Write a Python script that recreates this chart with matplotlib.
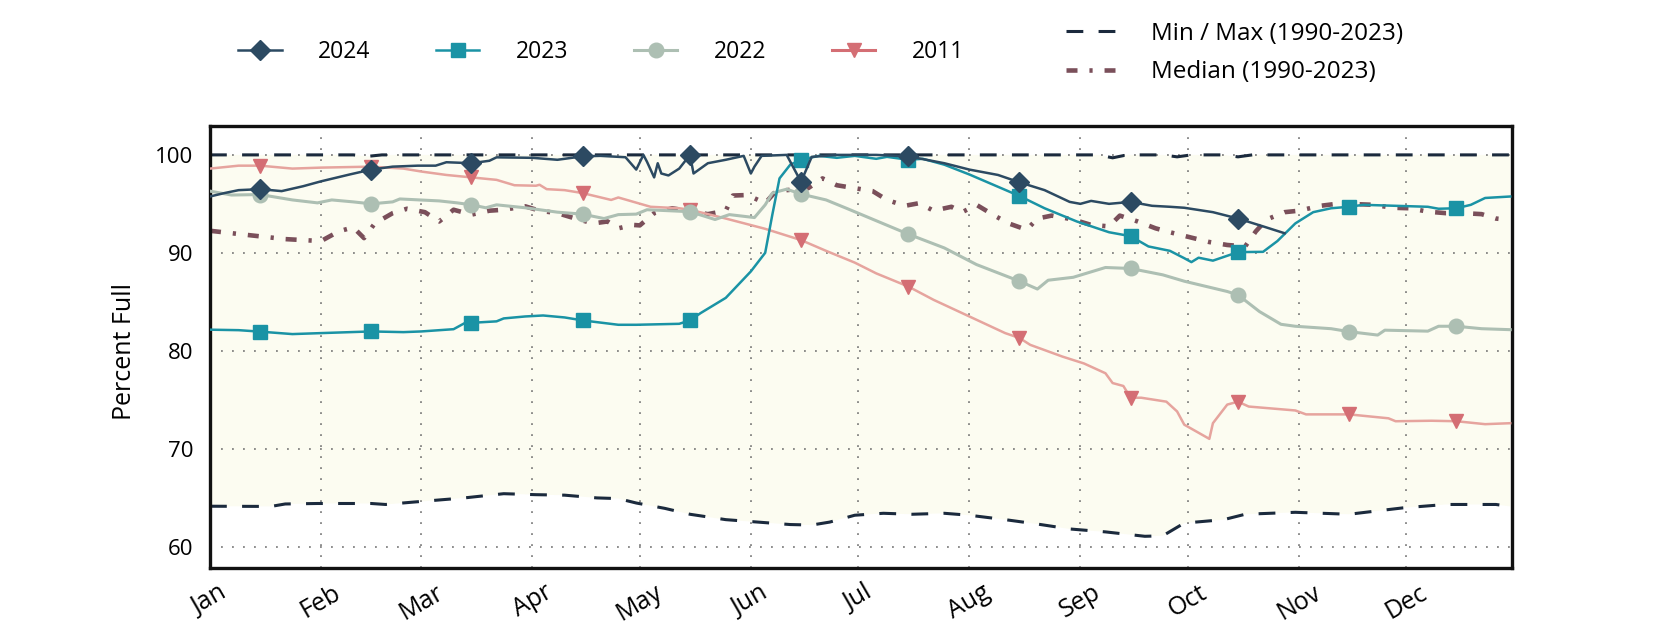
import numpy as np
import matplotlib
matplotlib.use('Agg')
import matplotlib.pyplot as plt
from matplotlib.lines import Line2D

plt.rcParams['font.family'] = ['Open Sans', 'DejaVu Sans']

# ------------------------------------------------------------
# data (day of year, 0 = Jan 1)
# ------------------------------------------------------------
month_labels = ['Jan', 'Feb', 'Mar', 'Apr', 'May', 'Jun',
                'Jul', 'Aug', 'Sep', 'Oct', 'Nov', 'Dec']
month_starts = [0, 31, 59, 90, 120, 151, 181, 212, 243, 273, 304, 334]
mid_month = [14, 45, 73, 104, 134, 165, 195, 226, 257, 287, 318, 348]

days_2024 = [0, 4, 8, 14, 20, 26, 31, 39, 45, 51, 58, 63, 66, 73, 78, 80, 90, 97,
             104, 109, 116, 119, 121, 122, 124, 125, 126, 128, 131, 134, 135, 139,
             144, 149, 151, 152, 154, 161, 165, 168, 175, 186, 195, 205, 212, 220,
             226, 233, 240, 243, 246, 251, 257, 263, 268, 272, 280, 287, 294, 300]
pct_2024 = [95.75, 96.1, 96.4, 96.5, 96.3, 96.8, 97.3, 98.0, 98.5, 98.8, 98.9, 98.9,
            99.25, 99.15, 99.4, 99.75, 99.7, 99.5, 99.85, 99.9, 99.76, 98.5, 100.0,
            99.3, 97.7, 99.15, 98.1, 97.9, 98.6, 100.0, 98.1, 99.15, 99.5, 99.9, 98.1,
            98.8, 99.9, 100.0, 97.25, 99.8, 100.0, 100.0, 99.85, 99.15, 98.5, 97.95,
            97.2, 96.4, 95.2, 95.0, 95.3, 95.0, 95.2, 94.8, 94.7, 94.6, 94.15, 93.5,
            92.7, 92.0]

days_2023 = [0, 8, 14, 23, 31, 45, 54, 59, 68, 71, 73, 80, 82, 88, 93, 99, 104, 114,
             119, 125, 131, 134, 137, 144, 151, 155, 157, 159, 162, 165, 170, 175,
             180, 186, 189, 195, 199, 205, 212, 219, 226, 233, 242, 251, 257, 262,
             268, 272, 274, 276, 280, 287, 294, 298, 303, 308, 313, 318, 322, 340,
             343, 348, 352, 356, 363]
pct_2023 = [82.15, 82.1, 81.95, 81.7, 81.8, 81.97, 81.9, 81.97, 82.2, 82.8, 82.85,
            83.0, 83.3, 83.5, 83.6, 83.4, 83.1, 82.65, 82.65, 82.7, 82.75, 83.1, 83.85,
            85.4, 88.1, 90.0, 93.9, 97.6, 99.0, 99.5, 99.9, 99.7, 99.9, 99.6, 99.8,
            99.5, 99.6, 99.0, 98.0, 96.9, 95.8, 94.55, 93.2, 92.1, 91.7, 90.65, 90.2,
            89.45, 89.05, 89.5, 89.2, 90.07, 90.1, 91.2, 93.0, 94.15, 94.55, 94.7,
            94.9, 94.7, 94.5, 94.55, 94.9, 95.6, 95.75]

days_2022 = [0, 6, 14, 23, 30, 34, 40, 45, 51, 53, 64, 69, 73, 77, 80, 88, 97, 104,
             110, 114, 119, 122, 134, 141, 145, 152, 155, 157, 161, 165, 172, 178,
             195, 205, 214, 226, 231, 234, 241, 250, 257, 266, 272, 284, 287, 293,
             299, 303, 313, 318, 326, 328, 340, 343, 348, 355, 363]
pct_2022 = [96.3, 95.9, 95.95, 95.4, 95.1, 95.4, 95.2, 95.0, 95.2, 95.5, 95.3, 95.1,
            94.9, 94.6, 94.9, 94.6, 94.15, 93.95, 93.5, 93.9, 93.95, 94.4, 94.2, 93.4,
            93.9, 93.6, 94.9, 96.1, 96.5, 96.0, 95.4, 94.5, 91.9, 90.5, 88.8, 87.1,
            86.3, 87.2, 87.5, 88.5, 88.4, 87.75, 87.1, 86.05, 85.7, 84.0, 82.7, 82.5,
            82.25, 81.95, 81.6, 82.1, 82.0, 82.5, 82.5, 82.25, 82.15]

days_2011 = [0, 8, 14, 23, 31, 45, 54, 59, 66, 73, 80, 85, 91, 92, 94, 99, 104, 112,
             114, 123, 131, 134, 144, 155, 165, 172, 180, 186, 195, 202, 212, 222,
             226, 229, 238, 244, 250, 252, 255, 257, 260, 267, 270, 272, 279, 280,
             284, 287, 290, 303, 306, 313, 318, 329, 331, 341, 348, 356, 363]
pct_2011 = [98.6, 98.9, 98.9, 98.6, 98.7, 98.8, 98.6, 98.3, 97.95, 97.7, 97.45, 96.9,
            96.85, 96.95, 96.5, 96.4, 96.1, 95.4, 95.65, 94.7, 94.55, 94.4, 93.5, 92.45,
            91.3, 90.2, 89.0, 87.9, 86.55, 85.2, 83.5, 81.8, 81.3, 80.6, 79.4, 78.7,
            77.7, 76.7, 76.4, 75.2, 75.2, 74.8, 73.8, 72.45, 71.0, 72.6, 74.5, 74.8,
            74.3, 73.9, 73.5, 73.5, 73.5, 73.1, 72.8, 72.85, 72.8, 72.5, 72.6]

days_median = [0, 11, 21, 31, 36, 40, 43, 46, 51, 55, 60, 64, 68, 73, 78, 82, 88, 92,
               97, 102, 107, 111, 114, 118, 120, 124, 129, 139, 144, 146, 150, 155,
               158, 167, 171, 175, 180, 185, 189, 194, 198, 202, 207, 210, 214, 219,
               223, 228, 231, 235, 241, 246, 251, 254, 259, 264, 268, 274, 279, 284,
               289, 292, 295, 300, 304, 310, 316, 320, 325, 330, 335, 340, 345, 350,
               355, 359, 363]
pct_median = [92.25, 91.8, 91.4, 91.2, 92.2, 92.6, 91.5, 93.0, 94.05, 94.5, 94.15,
              93.2, 94.4, 93.9, 94.3, 94.4, 94.75, 94.3, 94.05, 93.5, 93.0, 93.2, 92.5,
              92.85, 92.8, 94.05, 94.55, 93.95, 94.3, 95.85, 95.9, 95.07, 96.3, 96.6,
              97.6, 96.9, 96.6, 96.3, 95.4, 94.8, 95.07, 94.3, 94.7, 94.15, 94.9, 93.8,
              93.0, 92.35, 93.5, 93.8, 93.4, 92.85, 92.7, 93.8, 93.2, 92.5, 92.1,
              91.55, 91.1, 90.8, 90.65, 92.2, 93.4, 94.15, 94.3, 94.8, 95.07, 94.97,
              94.9, 94.6, 94.55, 94.2, 94.05, 94.05, 93.95, 93.5, 93.35]

days_max = [0, 40, 44, 48, 248, 252, 256, 266, 270, 274, 283, 287, 291, 363]
pct_max = [100, 100, 99.85, 100, 100, 99.7, 100, 100, 99.8, 100, 100, 99.8, 100, 100]

days_min = [0, 17, 21, 30, 45, 49, 57, 71, 82, 91, 99, 108, 114, 119, 127, 134, 144,
            153, 162, 168, 173, 180, 188, 196, 205, 212, 222, 231, 240, 250, 261, 266,
            272, 283, 289, 303, 318, 326, 333, 345, 359, 363]
pct_min = [64.12, 64.1, 64.35, 64.4, 64.4, 64.3, 64.55, 64.97, 65.4, 65.3, 65.25,
           64.97, 64.9, 64.45, 63.9, 63.3, 62.75, 62.5, 62.25, 62.2, 62.5, 63.2, 63.4,
           63.3, 63.4, 63.2, 62.75, 62.3, 61.8, 61.5, 61.05, 61.1, 62.4, 62.75, 63.3,
           63.5, 63.3, 63.65, 63.95, 64.3, 64.3, 64.1]

# colours
C_2024 = '#2c4a62'
C_2023 = '#1a93a5'
C_2022 = '#adbfb3'
C_2011_LINE = '#e6a49e'
C_2011_MARK = '#d46e74'
C_MEDIAN = '#7a4f5a'
C_MINMAX = '#1b2a3d'
C_FILL = '#fcfcf1'


def mid_idx(days):
    """indices of the mid-month points (where markers go)"""
    return [i for i, d in enumerate(days) if d in mid_month]


fig = plt.figure(figsize=(16.8, 6.3), dpi=100)
ax = fig.add_axes([0.125, 0.099, 0.775, 0.701])

# shaded band between min and max
ax.fill(np.r_[days_max, days_min[::-1]], np.r_[pct_max, pct_min[::-1]],
        color=C_FILL, lw=0, zorder=0.1)

minmax_dash = (0, (5.5, 5))
median_dash = (0, (2.4, 2.6, 0.7, 2.6))

ax.plot(days_max, pct_max, color=C_MINMAX, lw=2.2, linestyle=minmax_dash, zorder=2)
ax.plot(days_min, pct_min, color=C_MINMAX, lw=2.2, linestyle=minmax_dash, zorder=2)
ax.plot(days_median, pct_median, color=C_MEDIAN, lw=3.3, linestyle=median_dash, zorder=2)

ax.plot(days_2011, pct_2011, color=C_2011_LINE, lw=1.8, marker='v', markersize=10.5,
        markerfacecolor=C_2011_MARK, markeredgecolor=C_2011_MARK,
        markevery=mid_idx(days_2011), zorder=3)
ax.plot(days_2022, pct_2022, color=C_2022, lw=2.2, marker='o', markersize=10.5,
        markevery=mid_idx(days_2022), zorder=3)
ax.plot(days_2023, pct_2023, color=C_2023, lw=1.8, marker='s', markersize=10.5,
        markevery=mid_idx(days_2023), zorder=4)
ax.plot(days_2024, pct_2024, color=C_2024, lw=1.8, marker='D', markersize=10.5,
        markevery=mid_idx(days_2024), zorder=5)

ax.set_xlim(0, 363.5)
ax.set_ylim(57.85, 102.95)
ax.set_xticks(month_starts)
ax.set_xticklabels(month_labels, rotation=30, ha='center')
ax.set_yticks([60, 70, 80, 90, 100])
ax.tick_params(axis='y', length=0, labelsize=16, pad=12)
ax.tick_params(axis='x', length=0, labelsize=18, pad=9)

ax.set_axisbelow(True)
ax.grid(True, color='#6f6f6f', lw=1.1, linestyle=(0, (1.2, 6)))
for s in ax.spines.values():
    s.set_linewidth(2.4)
    s.set_color('#111111')

ax.set_ylabel('Percent Full', fontsize=18)
ax.yaxis.set_label_coords(-0.056, 0.49)

# legends
year_handles = [
    Line2D([], [], color=C_2024, lw=1.8, marker='D', markersize=10.5),
    Line2D([], [], color=C_2023, lw=1.8, marker='s', markersize=10.5),
    Line2D([], [], color=C_2022, lw=2.2, marker='o', markersize=10.5),
    Line2D([], [], color=C_2011_MARK, lw=2.2, marker='v', markersize=10.5),
]
fig.legend(year_handles, ['2024', '2023', '2022', '2011'], loc='center left',
           bbox_to_anchor=(238 / 1680, 1 - 52 / 630), ncol=4, frameon=False,
           fontsize=16.5, handlelength=1.9, handletextpad=1.6, columnspacing=2.85,
           borderpad=0, borderaxespad=0)

stat_handles = [
    Line2D([], [], color=C_MINMAX, lw=2.2, linestyle=minmax_dash),
    Line2D([], [], color=C_MEDIAN, lw=3.3, linestyle=median_dash),
]
fig.legend(stat_handles, ['Min / Max (1990-2023)', 'Median (1990-2023)'],
           loc='center left', bbox_to_anchor=(1066 / 1680, 1 - 53 / 630),
           frameon=False, fontsize=17.5, handlelength=2.0, handletextpad=1.5,
           labelspacing=0.6, borderpad=0, borderaxespad=0)

fig.savefig('out.png', dpi=100)
